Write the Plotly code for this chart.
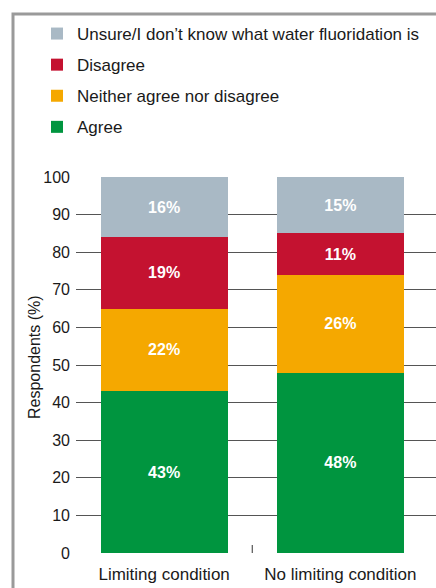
import plotly.graph_objects as go

categories = ["Limiting condition", "No limiting condition"]
series_names = ["Agree", "Neither agree nor disagree", "Disagree",
                "Unsure/I don\u2019t know what water fluoridation is"]
agree = [43, 48]
neither = [22, 26]
disagree = [19, 11]
unsure = [16, 15]
colors = ["#00953F", "#F5A800", "#C41230", "#A9B9C5"]
y_ticks = [0, 10, 20, 30, 40, 50, 60, 70, 80, 90, 100]

FONT = "Liberation Sans"
fig = go.Figure()
for i, (name, vals) in enumerate(zip(series_names, [agree, neither, disagree, unsure])):
    fig.add_trace(go.Bar(
        x=categories, y=vals, name=name, marker_color=colors[i],
        marker_line_width=0,
        text=[f"{v}%" for v in vals], textposition="inside",
        insidetextanchor="middle",
        textfont=dict(family=FONT, size=16, color="white", weight="bold"),
        legendgroup=str(i), legendrank=len(series_names) - i,
        hoverinfo="skip",
    ))

W, H = 436, 588
L, R, T, B = 76, 0, 177, 35
pw, ph = W - L - R, H - T - B

fig.update_layout(
    width=W, height=H, barmode="stack", bargap=0.278,
    margin=dict(l=L, r=R, t=T, b=B, pad=0),
    paper_bgcolor="white", plot_bgcolor="white",
    font=dict(family=FONT, size=16, color="#1a1a1a"),
    showlegend=True,
    legend=dict(
        x=(37 - L) / pw, y=(H - B - 16) / ph, xanchor="left", yanchor="top",
        traceorder="grouped", tracegroupgap=6, itemwidth=30,
        font=dict(family=FONT, size=17, color="#1a1a1a"),
        bgcolor="rgba(0,0,0,0)", itemclick=False,
    ),
    xaxis=dict(
        range=[-0.5, 1.5 + (W - 428.5) / 176], showgrid=False, zeroline=False,
        showline=False, ticks="", tickfont=dict(size=17), ticklabelstandoff=9,
    ),
    yaxis=dict(
        range=[0, 100], tickvals=y_ticks, showgrid=True, gridcolor="#555555",
        gridwidth=1, zeroline=False, showline=False, ticks="",
        ticklabelstandoff=5, tickfont=dict(size=16),
    ),
    annotations=[
        dict(text="Respondents (%)", xref="paper", yref="paper",
             x=(34 - L) / pw, y=(H - B - 357) / ph, textangle=-90,
             showarrow=False, font=dict(size=16), xanchor="center", yanchor="middle"),
    ],
    shapes=[
        dict(type="rect", xref="paper", yref="paper",
             x0=(13 - L) / pw, x1=1.2, y0=-0.3, y1=(H - B - 14) / ph,
             line=dict(color="#9A9A9A", width=3), fillcolor="rgba(0,0,0,0)",
             layer="below"),
        dict(type="line", xref="x", yref="paper", x0=0.5, x1=0.5,
             y0=0, y1=8 / ph, line=dict(color="#333333", width=1)),
    ],
)

fig.write_html("out.html")
